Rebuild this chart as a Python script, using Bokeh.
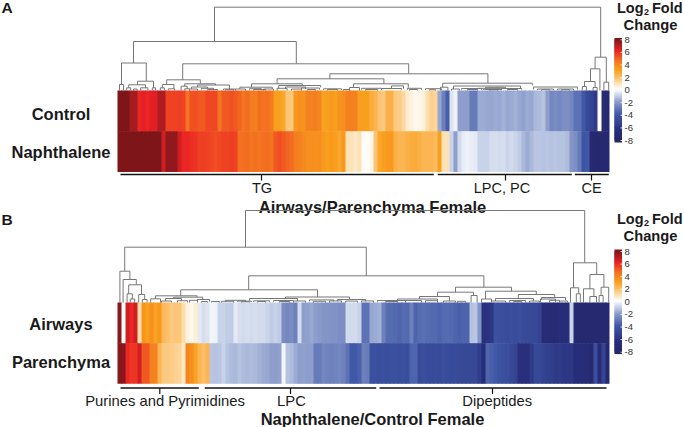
import numpy as np
from bokeh.plotting import figure
from bokeh.models import ColumnDataSource, LinearColorMapper, Range1d
from bokeh.core.properties import value
from bokeh.embed import file_html
from bokeh.resources import INLINE

control = [8,8,8,7.2,7.2,6,6.2,6,6.2,6.3,7,7,5.5,5.5,5.5,5.6,5.5,4.4,5.2,5.2,5,5,5.4,5.4,5.4,4.4,5,5,5.2,5,
 4.8,4.4,4.6,4.2,4.2,4.6,4.4,4.5,4.3,3,3,2.8,1.7,1.6,3.3,3.5,3.4,4,4,4.2,3.9,2.9,3,3.2,3,3.4,3.6,4.1,4.1,4,
 3,3,3,2.5,2.3,1.8,1.6,2.4,2.4,1.6,1.5,1.2,0.6,0.4,0.2,0.3,0.4,1,1.4,1.3,
 -1.8,-2.8,-3.8,-0.6,-0.3,-2,-2,-2,-3,-3,-1.7,-1.7,-1.8,-1.8,-1.7,-1.8,-1.6,-1.8,-1.7,-1.6,-1.8,-1.9,-1.7,-1.8,
 -1.5,-1.4,-1.3,-2,-2.6,-2.5,-2.6,-2.4,-2.4,-2.6,-3.2,-3.2,-4,-5,-5.2,-5.8,0,-7,-7.5]
naphthalene = [8,8,8,8,8,8,8,8,8,8,8,6.5,7.6,7.6,7.6,6.5,6,6,5.9,5.8,5.6,5.6,5.5,5.4,5.3,5.4,5.5,5.5,5.6,5.5,
 4.5,4.5,4.6,4.4,4.5,4.4,4.5,4.6,4.4,5,5.3,5,4.8,4.6,4.2,4,3.8,3.6,3.6,3.5,3.6,3.3,3,3.2,3,2.8,3.2,0.9,0.9,0.7,
 0.9,0.1,0.1,0.3,1.8,2.8,3,3.3,3.3,2.4,2.2,2.2,2.4,2.5,2.6,2.4,2.2,2.2,2.2,2,
 3,0.9,0.9,-1,-2,-0.8,-0.4,-0.3,-0.4,-0.5,-1,-1,-1,-0.7,-0.7,-0.8,-0.7,-0.9,-0.8,-0.9,-1.1,-1.5,-1.7,-1.5,
 -1.2,-1.2,-1.3,-1.2,-1.3,-1.2,-1.3,-1.3,-1.4,-2.2,-2.4,-3,-4.2,-4,-7.4,-7.6,-7.6,-7.6,-7.6]
airways = [7.8,0,6.5,6,6.5,1,3.4,3,3.5,2.9,3.3,2.1,1.9,1.6,1.7,1.7,1,0.4,0.2,0.5,-0.5,-0.7,-0.6,-0.2,-0.3,-1,-1,-1.1,-1.1,
 -0.5,-0.7,-0.8,-0.7,-0.8,-0.7,-0.8,-0.8,-0.9,-1.1,-1,-1.1,-2.5,-2.6,-2.5,-2.8,-0.7,-2,-1.9,-1.8,-2,-2.1,-2.2,-2.2,
 -2.3,-2.3,-2.4,-2.4,-0.8,-0.8,-0.8,-1,-3.2,-3.2,
 -1.8,-1.7,-1.6,-2.8,-3.4,-3.4,-3.5,-3.6,-3.4,-3.5,-2.8,-3.6,-3.4,-3.3,-3.4,-3.5,-3.5,-3.6,-3.5,-3.4,-3.5,-3.6,-3.7,
 -3.6,-3.6,-1.3,-1.2,-2.2,-6.4,-6.2,-6,-4.5,-4.6,-4.6,-4.7,-4.6,-4.7,-4.6,-4.8,-4.9,-5,-5,-5.2,
 -7,-7,-7.2,-7.2,-6.8,-6.8,-6.8,-1,-7.6,-7.6,-7.6,-7.6,-7.6,-7.6,-7.6,-7.6,-7.6]
parenchyma = [7.8,7.8,6,5.7,5.8,6.5,5,5,4,4,2.2,1.6,1.6,1.5,1.4,1.3,0.7,3.9,3.6,2.9,2.2,1.9,2.2,
 -1.2,-1.3,-1.2,-1,-1.3,-1.4,-1.5,-1.3,-1.4,-1.5,-1.4,-1.5,-1.6,-1.7,-1.8,-2,-2,-1.9,-0.2,-1.3,-1.4,-1.7,-2,-1.9,-2,
 -2,-3,-3,-2.6,-2.7,-2.8,-2.7,-2.6,-2.8,-3.2,-4,-4,-3.7,-2.8,-2.9,
 -4.5,-4.4,-4.6,-4.5,-4.6,-4.5,-4.4,-4.6,-4.5,-4.6,-3.6,-3.6,-4.8,-4.6,-4.7,-4.8,-4.7,-4.8,-4.6,-4.7,-4.8,-4.7,-4.9,-5,
 -5,-5,-5,-5.6,-6.8,-3.6,-3.8,-4,-4.2,-4.4,-4.6,-5,-5.2,-6.5,-6.5,-6.5,-5.8,-5,-5,-5.2,-5.4,-5.6,-5.8,-5.8,-6,-6,-6,
 -6.8,-6.8,-6.8,-7,-7.5,-4.6,-7,-5.2,-7.6,-7.6]

# dendrogram merges: left leaf position, right leaf position, merge height, left drop, right drop
links_a = [(24.25,120.8,83.3,49,33.3),(4,44.7,49,27.5,26.7),
 (1,7.2,27.5,6,9.3),(0.5,1.5,6,0,0),(5,9,9.3,5.7,2.7),(2.8,7,5.7,2.7,2.7),(2.3,3.3,2.7,0,0),(5.8,7.6,2.7,0,0),(8.7,9.5,2.7,0,0),(4,4.9,1.5,0,0),
 (16.3,72.8,26.7,10.7,16.7),(12.3,20.7,10.7,6,6.7),(11.2,14.1,6,2.7,1.7),(10.7,11.7,2.7,0,0),(12.7,14.3,1.7,0,0),
 (16.8,24.5,6.7,4.3,5.5),(15.9,17.4,4.3,0,1.7),(16.8,18,1.7,0,0),
 (20,28,5.5,3.5,1.5),(18.5,22.5,3.5,1.5,2.2),(18,20,1.5,0,0),(21,24,2.2,1,1),(22.5,25,1,0,0),(26.5,29.5,1.5,0.5,0.5),(27,29,0.8,0,0),
 (53.1,92.6,16.7,11.7,7.3),(39.9,66.6,11.7,6.7,6.7),(33.5,46.2,6.7,3.3,5),(30.6,38.7,3.3,1.5,1.5),(29.5,32,1.5,0,0),(33,36,1.8,0.8,0.8),(34,37,1,0,0),(36.5,39,1.5,0,0),
 (40.3,50.8,5,2.2,3.2),(39.9,42.4,2.2,0,0),(42,47,3.5,1.5,1.5),(43.5,46,1.5,0,0),(46,50.5,2.5,1,1),(47.5,49.5,1,0,0),(51.5,56,1.7,0.7,0.7),(52.5,55,1,0,0),(56.5,58,1,0,0),
 (59,72.7,6.7,3,2.8),(58,60.5,3,0,0),(61,66,2.2,0.8,0.8),(62,65,1,0,0),(68.5,71.5,4.6,1.8,1.8),(66,71,2,0.8,0.8),(72.5,76,2.2,0.8,0.8),(73,75,1,0,0),(77,81,1.8,0.5,0.5),(78,79.5,0.8,0,0),
 (81.3,103.7,7.3,3.3,5),(80.75,82.6,3.3,0,0),(84,100.75,4.5,1.5,2.5),(83.5,85.5,1.5,0,0),(92,97,3.2,2,2),(90,96,2.2,1.2,1.2),(91.5,95.5,1.4,0.7,0.7),(92,96,1,0.5,0.5),(93,95,0.7,0,0),
 (86,91,2,0.8,0.8),(87.5,90,1,0,0),(96,101,2,1,1),(97.5,100,1,0,0),(104,115,3.5,1,1),(105,109,1.5,0.5,0.5),(106,108,0.8,0,0),(110,114,1.5,0.5,0.5),(111,113,0.8,0,0),
 (119.4,122.2,33.3,21.7,8.3),(118.25,120.6,21.7,9,0),(116.75,119.4,9,4,3),(116.2,117.2,4,0,0),(118.9,119.9,3,0,0),(121.6,122.8,8.3,0,0)]
links_b = [(32,116.8,92,55.3,39.7),(1.8,62.2,55.3,31.3,26.7),(0.6,3.1,31.3,0,23),(1.4,4.7,23,0,17.7),(2.8,6,17.7,8.7,8),(2.4,3.7,8.7,0,3.5),(3.2,4.3,3.5,0,0),(5.3,6.8,8,0,3),(6.2,7.4,3,0,0),
 (32.8,91.6,26.7,12.7,15.3),(15.8,50,12.7,6.7,5.5),(9.5,19.9,6.7,3.7,5.3),(8.3,10.75,3.7,0,0),(14,21.3,5.3,4,3),(12,16,4,1.5,1.5),(11,13.5,1.5,0,0),(15,17.5,1.8,0,0),(18,20,2.2,0,0),(20,23,3,0.8,0.8),(21,22.5,1,0,0),(23.5,25.5,1,0,0),
 (42,58,5.5,4,3),(33,45,4,2,1.5),(27,32,2.2,1,1),(26,29,1.2,0,0),(30,33.5,1.4,0.6,0.6),(31,33,0.8,0,0),(34,38,1.7,0.7,0.7),(35,37,1,0,0),(39,44,2,0.8,0.8),(40.5,43,1,0,0),(44,47,1.5,0,0),
 (48,54,2.6,1,1),(49,52,1.2,0,0),(53,56,1.6,0,0),(55,62,3,1.2,1.2),(57,60,1.4,0,0),(61,64,1.6,0,0),
 (84.5,98.5,15.3,10.3,11.3),(80,89,10.3,6,7),(75.5,83,6,3.5,1.5),(70,80,3.5,1.5,1.5),(65,72,2,0.8,0.8),(67,70,1,0,0),(72,76,2,0,0),(77,80,1.8,0,0),(81.5,84.5,1.5,0,0),(85,87,1.2,0,0),(88.4,89.9,7,0,0),
 (92,104.7,11.3,3.5,8),(91,93.5,3.5,0,0),(100.2,109.3,8,4,5),(94.5,104,4,1.5,1.5),(93.5,97,1.5,0,0),(98,102,2,0.7,0.7),(99,101,0.9,0,0),(103,105.5,1.5,0,0),(106,112,5,2.5,2.5),(105.75,109.5,3.5,0,0),(108,110.5,2.2,0,0),(110.5,112.5,1.5,0,0),
 (114,119.8,39.7,14.7,28),(113.25,115.3,14.7,0,8.7),(114.7,115.7,8.7,0,0),(118.1,121.6,28,13.7,15.3),(116.5,119.1,13.7,0,6),(118.1,119.75,6,0,0),(120.9,122.8,15.3,7,0),(120.4,121.4,7,0,0)]

row_labels_a = ["Control", "Naphthalene"]
row_labels_b = ["Airways", "Parenchyma"]
group_labels_a = ["TG", "LPC, PC", "CE"]
group_labels_b = ["Purines and Pyrimidines", "LPC", "Dipeptides"]
title_a = "Airways/Parenchyma Female"
title_b = "Naphthalene/Control Female"
legend_ticks = [8, 6, 4, 2, 0, -2, -4, -6, -8]

anchor_v = [-8, -6.5, -4, -2, -1, 0, 1, 2, 3, 4.3, 5.5, 6.2, 7.2, 8]
anchor_c = ["#25276b", "#292f7d", "#3f58a7", "#8c9ccb", "#c6d1e8", "#ffffff", "#fddfb0", "#fcbb62", "#f9a01e", "#f47b20",
            "#ef4423", "#e91f25", "#a61c20", "#7e1518"]
def _rgb(h):
    return [int(h[i:i+2], 16) for i in (1, 3, 5)]
_g = np.linspace(-8, 8, 256)
_ch = np.array([_rgb(c) for c in anchor_c], float)
palette = ["#%02x%02x%02x" % tuple(int(round(np.interp(v, anchor_v, _ch[:, k]))) for k in range(3)) for v in _g]
mapper = LinearColorMapper(palette=palette, low=-8, high=8)

# the figure fills the window, so its data units are the picture's pixels
p = figure(width=684, height=427, x_range=Range1d(0, 684), y_range=Range1d(427, 0),
           output_backend="svg", toolbar_location=None, min_border=0, outline_line_color=None,
           background_fill_color="white", border_fill_color="white")
p.axis.visible = False
p.grid.visible = False

FONT = value("Liberation Sans")
X0, CW = 117.0, 4.0

def heat(row1, row2, top, rh, bot2):
    vals = list(row1) + list(row2)
    idx = list(range(len(row1))) * 2
    n = len(row1)
    # each cell runs a little under its right-hand neighbour, so no seams show
    src = ColumnDataSource(dict(
        l=[X0 + CW * i for i in idx],
        r=[X0 + CW * (i + 1) + (0.7 if i < n - 1 else 0) for i in idx],
        t=[top] * n + [top + rh] * n,
        b=[top + rh + 0.5] * n + [bot2] * n, v=vals))
    p.quad(left="l", right="r", top="t", bottom="b", source=src, line_color=None,
           fill_color={"field": "v", "transform": mapper})

def dend(links, base):
    xs, ys = [], []
    for a, b, h, ha, hb in links:
        xs.append([X0 + CW * a, X0 + CW * a, X0 + CW * b, X0 + CW * b])
        ys.append([base - ha, base - h, base - h, base - hb])
    p.multi_line(xs, ys, line_color="#777777", line_width=1)

def label(x, y, t, size, bold=False, align="center", color="#1a1a1a"):
    p.text([x], [y], text=[t], text_font=FONT, text_font_size=f"{size}px",
           text_font_style="bold" if bold else "normal", text_align=align, text_baseline="middle", text_color=color)

def brackets(spans, y, tick):
    for l, r, c in spans:
        p.line([l, r], [y, y], line_color="#111111", line_width=1.4)
        p.line([c, c], [y, y + tick], line_color="#111111", line_width=1.2)

def colorbar(y8, ym8, x0, x1):
    lv = np.linspace(8, -8, 65)
    unit = (ym8 - y8) / 16
    src = ColumnDataSource(dict(v=lv, t=[y8 + (8 - v) * unit - unit * .3 for v in lv],
                                b=[y8 + (8 - v) * unit + unit * .3 for v in lv]))
    p.quad(left=x0, right=x1, top="t", bottom="b", source=src, line_color=None,
           fill_color={"field": "v", "transform": mapper})
    for t in legend_ticks:
        y = y8 + (8 - t) * unit
        label(x1 + 2.5, y, str(t), 9.5, align="left", color="#333333")
        p.line([x1 - 1.5, x1], [y, y], line_color="white", line_width=0.8)

def legend_title(y):
    label(616.5, y, "Log", 14.5, True, "left")
    label(643.5, y + 4, "2", 9, True, "left")
    label(651.5, y, "Fold", 14.5, True, "left")
    label(650, y + 17, "Change", 14.7, True)

# Panel A
heat(control, naphthalene, 90, 40.7, 171.5)
dend(links_a, 90)
label(1, 7, "A", 15.5, True, "left")
label(60.5, 113.5, row_labels_a[0], 16.5, True)
label(60.5, 151.5, row_labels_a[1], 16.5, True)
brackets([(120, 433.3, 261), (437.3, 571.3, 505), (574.3, 608.3, 591)], 174, 6)
label(261.5, 187.5, group_labels_a[0], 14.5)
label(501.5, 187.5, group_labels_a[1], 14.5)
label(591, 187.5, group_labels_a[2], 14.5)
label(372, 206, title_a, 16.5, True)
colorbar(39.3, 140, 614, 621.5)
legend_title(7)

# Panel B
heat(airways, parenchyma, 302, 40.7, 383.3)
dend(links_b, 302)
label(1, 219, "B", 15.5, True, "left")
label(60.5, 323, row_labels_b[0], 16.5, True)
label(60.5, 361, row_labels_b[1], 16.5, True)
brackets([(120, 198.3, 159.3), (204.3, 375.7, 290), (379, 606, 492)], 387.5, 6)
label(164.5, 400, group_labels_b[0], 14.8)
label(291, 400, group_labels_b[1], 14.8)
label(496.7, 400, group_labels_b[2], 14.8)
label(372, 418, title_b, 16.5, True)
colorbar(251, 351.7, 614, 621.5)
legend_title(218)

open("out.html", "w").write(file_html(p, INLINE))
